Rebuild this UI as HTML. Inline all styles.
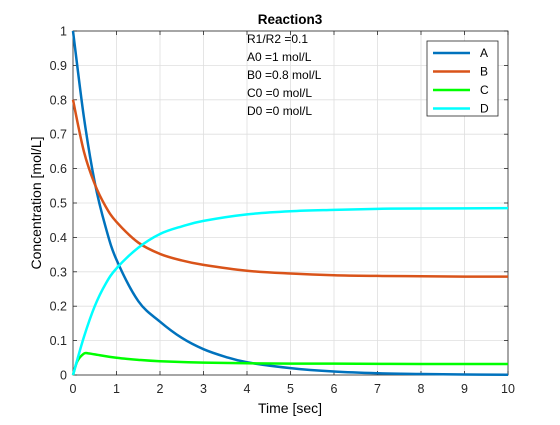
<!DOCTYPE html>
<html><head><meta charset="utf-8"><style>
body{margin:0;background:#fff;}
svg text{font-family:"Liberation Sans",Arial,sans-serif;}
</style></head><body>
<svg id="chart" width="560" height="420" viewBox="0 0 560 420">
<rect x="0" y="0" width="560" height="420" fill="#fff"/>
<g id="grid"></g>
<g id="axes"></g>
<g id="series"></g>
<text x="290" y="24" font-size="13.5" font-weight="bold" text-anchor="middle">Reaction3</text>
<text x="290" y="413" font-size="14" text-anchor="middle">Time [sec]</text>
<text x="0" y="0" font-size="14" text-anchor="middle" transform="translate(41,203) rotate(-90)">Concentration [mol/L]</text>
<g font-size="12">
<text x="247" y="43">R1/R2 =0.1</text>
<text x="247" y="61">A0 =1 mol/L</text>
<text x="247" y="79">B0 =0.8 mol/L</text>
<text x="247" y="97">C0 =0 mol/L</text>
<text x="247" y="115">D0 =0 mol/L</text>
</g>
<g id="legend">
<rect x="427" y="41" width="71" height="75" fill="#fff" stroke="#262626" stroke-width="0.8"/>
</g>
</svg>
<script>
const xTicks=[0,1,2,3,4,5,6,7,8,9,10];
const yTicks=[0,0.1,0.2,0.3,0.4,0.5,0.6,0.7,0.8,0.9,1];
const yTickLabels=["0","0.1","0.2","0.3","0.4","0.5","0.6","0.7","0.8","0.9","1"];
const seriesNames=["A","B","C","D"];
const tA=[0,0.25,0.5,0.75,1,1.5,2,2.5,3,3.5,4,5,6,7,8,9,10];
const valuesA=[1,0.75,0.56,0.43,0.335,0.215,0.155,0.108,0.075,0.053,0.037,0.02,0.01,0.005,0.003,0.0015,0.0008];
const tB=[0,0.25,0.5,0.75,1,1.5,2,2.5,3,4,5,6,7,8,9,10];
const valuesB=[0.8,0.65,0.555,0.49,0.445,0.385,0.352,0.333,0.32,0.303,0.295,0.29,0.288,0.287,0.286,0.286];
const tC=[0,0.1,0.25,0.35,0.5,1,1.5,2,3,4,5,6,8,10];
const valuesC=[0,0.04,0.062,0.063,0.06,0.05,0.044,0.04,0.036,0.034,0.033,0.033,0.032,0.032];
const tD=[0,0.25,0.5,0.75,1,1.5,2,2.5,3,4,5,6,7,8,10];
const valuesD=[0,0.11,0.2,0.265,0.31,0.37,0.41,0.432,0.448,0.467,0.476,0.48,0.483,0.484,0.485];
const colors=["#0072BD","#D95319","#00FF00","#00FFFF"];
const X0=73,X1=508,Y0=375,Y1=31;
const sx=v=>X0+(v-0)/(10-0)*(X1-X0);
const sy=v=>Y0-(v-0)/(1-0)*(Y0-Y1);
const NS="http://www.w3.org/2000/svg";
function mk(tag,attrs,parent){const e=document.createElementNS(NS,tag);for(const k in attrs)e.setAttribute(k,attrs[k]);parent.appendChild(e);return e;}
const grid=document.getElementById('grid'),axes=document.getElementById('axes'),ser=document.getElementById('series'),leg=document.getElementById('legend');
xTicks.forEach(v=>{
 const l=mk('line',{x1:sx(v),x2:sx(v),y1:Y1,y2:Y0,stroke:'#dfdfdf','stroke-width':0.8},grid);
 
 
 mk('line',{x1:sx(v),x2:sx(v),y1:Y0,y2:Y0-4,stroke:'#262626','stroke-width':0.8},axes);
 mk('line',{x1:sx(v),x2:sx(v),y1:Y1,y2:Y1+4,stroke:'#262626','stroke-width':0.8},axes);
 const t=mk('text',{x:sx(v),y:Y0+18,'font-size':12.5,'text-anchor':'middle',fill:'#262626'},axes);
 t.textContent=String(v);
 
 
});
yTicks.forEach((v,i)=>{
 const l=mk('line',{x1:X0,x2:X1,y1:sy(v),y2:sy(v),stroke:'#dfdfdf','stroke-width':0.8},grid);
 
 
 mk('line',{x1:X0,x2:X0+4,y1:sy(v),y2:sy(v),stroke:'#262626','stroke-width':0.8},axes);
 mk('line',{x1:X1,x2:X1-4,y1:sy(v),y2:sy(v),stroke:'#262626','stroke-width':0.8},axes);
 const t=mk('text',{x:X0-6,y:sy(v)+4.5,'font-size':12.5,'text-anchor':'end',fill:'#262626'},axes);
 t.textContent=yTickLabels[i];
 
 
});
mk('rect',{x:X0,y:Y1,width:X1-X0,height:Y0-Y1,fill:'none',stroke:'#262626','stroke-width':0.8},axes);
function pathFor(ts,vs){
 const p=ts.map((t,i)=>[sx(t),sy(vs[i])]);
 let d='M'+p[0][0]+','+p[0][1];
 for(let i=0;i<p.length-1;i++){
  const p0=p[Math.max(0,i-1)],p1=p[i],p2=p[i+1],p3=p[Math.min(p.length-1,i+2)];
  const c1=[p1[0]+(p2[0]-p0[0])/6,p1[1]+(p2[1]-p0[1])/6];
  const c2=[p2[0]-(p3[0]-p1[0])/6,p2[1]-(p3[1]-p1[1])/6];
  d+=' C'+c1[0]+','+c1[1]+' '+c2[0]+','+c2[1]+' '+p2[0]+','+p2[1];
 }
 return d;
}
const all=[[tA,valuesA],[tB,valuesB],[tC,valuesC],[tD,valuesD]];
all.forEach((s,i)=>{
 const p=mk('path',{d:pathFor(s[0],s[1]),fill:'none',stroke:colors[i],'stroke-width':2.5},ser);
 
 
 const ly=53+i*18.5;
 const ll=mk('line',{x1:433,x2:470,y1:ly,y2:ly,stroke:colors[i],'stroke-width':2.5},leg);
 
 
 const lt=mk('text',{x:480,y:ly+4,'font-size':12},leg);
 lt.textContent=seriesNames[i];
 
 
});
</script>
</body></html>
